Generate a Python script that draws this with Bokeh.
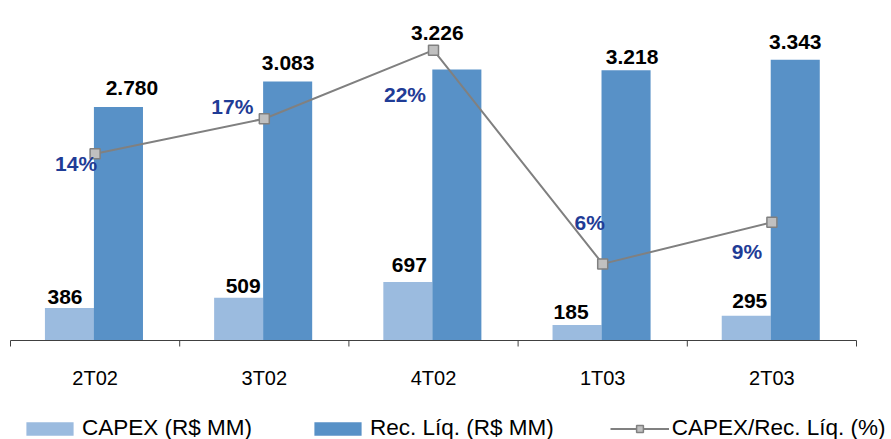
from bokeh.plotting import figure
from bokeh.models import ColumnDataSource, Range1d, Legend, LegendItem
from bokeh.transform import dodge
from bokeh.core.properties import value
from bokeh.embed import file_html
from bokeh.resources import INLINE

# ---- data ----
quarters = ["2T02", "3T02", "4T02", "1T03", "2T03"]
capex = [386, 509, 697, 185, 295]
receita = [2780, 3083, 3226, 3218, 3343]
ratio_pct = [13.9, 16.5, 21.6, 5.7, 8.8]
ratio_labels = ["14%", "17%", "22%", "6%", "9%"]
series_names = ["CAPEX (R$ MM)", "Rec. Líq. (R$ MM)", "CAPEX/Rec. Líq. (%)"]

# label placement tweaks (screen px) as in the reference
capex_dx = [-4.5, 4.5, 1.5, -6, 3.5]
capex_dy = [-11, -12, -17, -13, -15]
rec_dx = [13.5, 0.5, -19.5, 6, 0]
rec_dy = [-19, -19, -37, -13, -18]
pct_dx = [-19, -32, -28.5, -13, -25]
pct_dy = [10, -12, 44, -41, 29]

LIGHT = "#9BBBDF"
DARK = "#5891C7"
LINE = "#808080"
MARK = "#C0C0C0"
AXIS = "#404040"
PCT_COLOR = "#1F3C96"
FONT = "Liberation Sans"

# ---- layout geometry (pixels) ----
W, H = 891, 439
PLOT_LEFT, PLOT_RIGHT = 10, 856      # category area
BASE_FROM_TOP, TOP_PAD = 340, 4     # baseline position / top padding
VAL_MAX, PCT_MAX = 4000, 25
n = len(quarters)
cat_px = (PLOT_RIGHT - PLOT_LEFT) / n
h_px = BASE_FROM_TOP - TOP_PAD
below_px = H - BASE_FROM_TOP

x_lo = -PLOT_LEFT / cat_px
x_hi = n + (W - PLOT_RIGHT) / cat_px
y_lo = -below_px * VAL_MAX / h_px
y_hi = BASE_FROM_TOP * VAL_MAX / h_px
p_lo = -below_px * PCT_MAX / h_px
p_hi = BASE_FROM_TOP * PCT_MAX / h_px
tick_len = 6 * VAL_MAX / h_px

centers = [i + 0.5 for i in range(n)]
bounds = list(range(n + 1))
src = ColumnDataSource(dict(
    xc=centers, q=quarters,
    capex=capex, receita=receita, ratio=ratio_pct,
    capex_lbl=[str(v) for v in capex],
    rec_lbl=[f"{v:,}".replace(",", ".") for v in receita],
    pct_lbl=ratio_labels,
    capex_dx=capex_dx, capex_dy=capex_dy,
    rec_dx=rec_dx, rec_dy=rec_dy,
    pct_dx=pct_dx, pct_dy=pct_dy,
))

p = figure(width=W, height=H, x_range=Range1d(x_lo, x_hi),
           y_range=Range1d(y_lo, y_hi), output_backend="svg",
           toolbar_location=None, x_axis_location=None, y_axis_location=None,
           min_border_left=0, min_border_right=0, min_border_top=0,
           min_border_bottom=0, outline_line_color=None)
p.extra_y_ranges = {"pct": Range1d(p_lo, p_hi)}
p.grid.visible = False

BW = 0.29
OFF_C = -0.1515
OFF_R = 0.138

bar_c = p.vbar(x=dodge("xc", OFF_C, range=p.x_range), top="capex", width=BW,
               source=src, fill_color=LIGHT, line_color=None)
bar_r = p.vbar(x=dodge("xc", OFF_R, range=p.x_range), top="receita", width=BW,
               source=src, fill_color=DARK, line_color=None)

# category axis: baseline, boundary ticks and labels
p.segment(x0=[0], y0=[0], x1=[n], y1=[0], line_color=AXIS, line_width=1)
p.segment(x0=bounds, y0=[0] * len(bounds), x1=bounds,
          y1=[-tick_len] * len(bounds), line_color=AXIS, line_width=1)
p.text(x="xc", y=0, text="q", source=src, y_offset=37.5,
       text_align="center", text_baseline="alphabetic",
       text_font=value(FONT), text_font_size="20px", text_color="black")

ln = p.line(x="xc", y="ratio", source=src, y_range_name="pct",
            line_color=LINE, line_width=2)
sc = p.scatter(x="xc", y="ratio", source=src, y_range_name="pct",
               marker="square", size=10, fill_color=MARK,
               line_color=LINE, line_width=1.5)

p.text(x=dodge("xc", OFF_C, range=p.x_range), y="capex", text="capex_lbl",
       x_offset="capex_dx", y_offset="capex_dy", source=src,
       text_align="center", text_baseline="alphabetic",
       text_font=value(FONT), text_font_style="bold", text_font_size="21px",
       text_color="black")
p.text(x=dodge("xc", OFF_R, range=p.x_range), y="receita", text="rec_lbl",
       x_offset="rec_dx", y_offset="rec_dy", source=src,
       text_align="center", text_baseline="alphabetic",
       text_font=value(FONT), text_font_style="bold", text_font_size="21px",
       text_color="black")
p.text(x="xc", y="ratio", text="pct_lbl", y_range_name="pct",
       x_offset="pct_dx", y_offset="pct_dy", source=src,
       text_align="center", text_baseline="alphabetic",
       text_font=value(FONT), text_font_style="bold", text_font_size="21px",
       text_color=PCT_COLOR)

legend = Legend(items=[
    LegendItem(label=series_names[0], renderers=[bar_c]),
    LegendItem(label=series_names[1], renderers=[bar_r]),
    LegendItem(label=series_names[2], renderers=[ln, sc]),
], orientation="horizontal", location=(20, -2), glyph_width=59,
    glyph_height=17, label_standoff=3, spacing=56, padding=0, margin=0,
    border_line_color=None, background_fill_alpha=0,
    label_text_font=FONT, label_text_font_size="22.5px", label_text_color="black")
p.add_layout(legend, "center")

open("out.html", "w").write(file_html(p, INLINE))
